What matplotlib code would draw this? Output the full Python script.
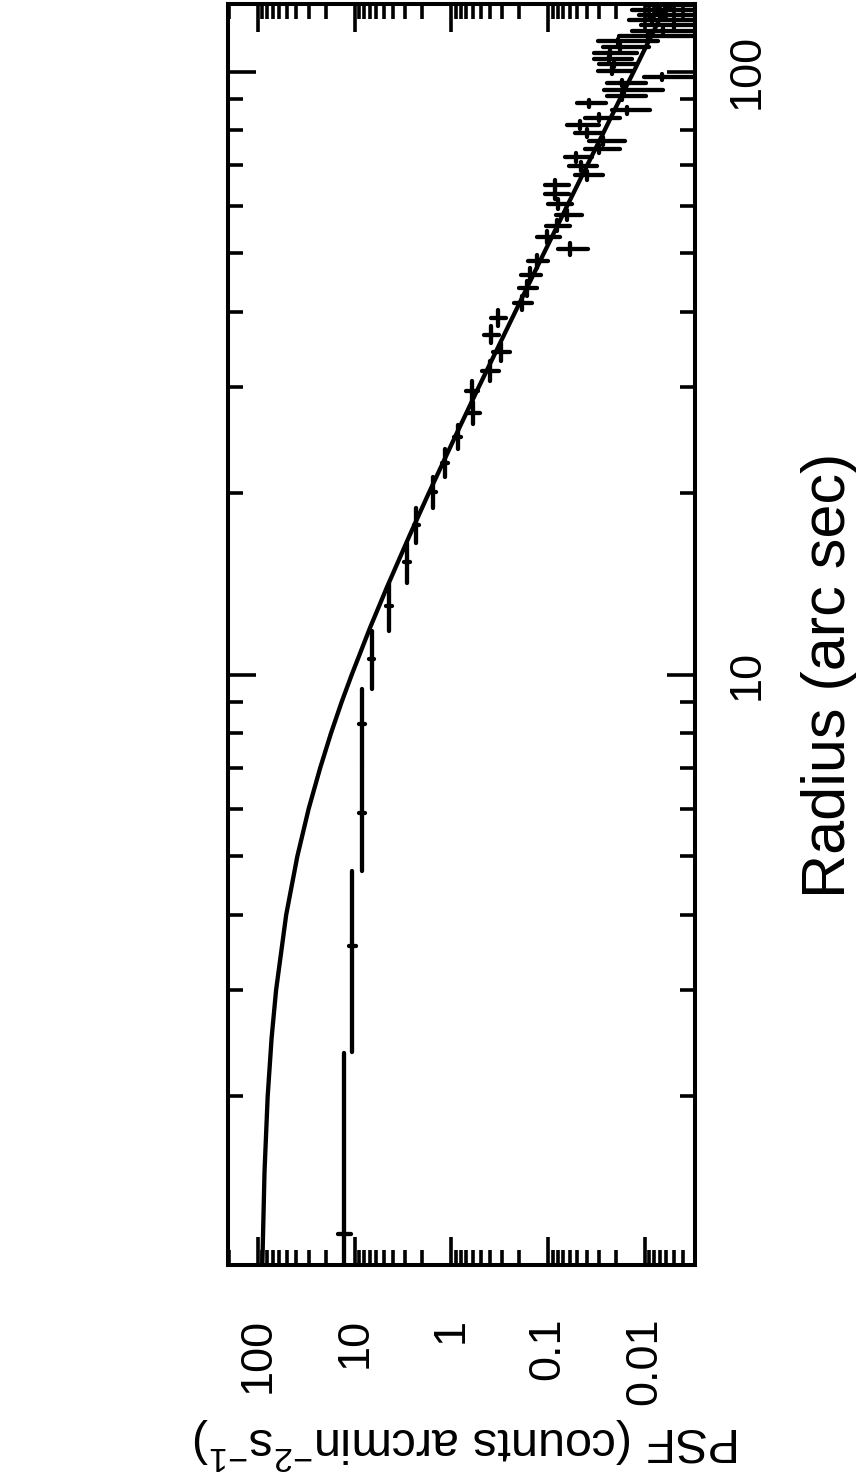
import numpy as np
import matplotlib
matplotlib.use('Agg')
import matplotlib.pyplot as plt
from matplotlib.ticker import LogLocator, FuncFormatter, NullFormatter

plt.rcParams['font.family'] = ['Liberation Sans', 'DejaVu Sans']
plt.rcParams['mathtext.fontset'] = 'custom'
plt.rcParams['mathtext.rm'] = 'Liberation Sans'
plt.rcParams['mathtext.it'] = 'Liberation Sans:italic'

# radial bins (arc sec): bin centres and half width
radius = [1.18, 3.55, 5.91, 8.28, 10.64, 13.01, 15.37, 17.74, 20.10, 22.47,
          24.83, 27.20, 29.56, 31.93, 34.29, 36.66, 39.03, 41.39, 43.75, 46.12,
          48.48, 50.85, 53.21, 55.58, 57.94, 60.31, 62.67, 65.04, 67.40, 69.77,
          72.13, 74.50, 76.86, 79.23, 81.59, 83.96, 86.32, 88.69, 91.05, 93.42,
          95.78, 98.15, 100.51, 102.88, 105.24, 107.61, 109.97, 112.34, 114.70, 117.07,
          119.43, 121.80, 124.16, 126.53, 128.89]
r_half = 1.18

# measured PSF (counts arcmin^-2 s^-1) and its error
psf = [12.9, 10.6, 8.5, 8.5, 6.7, 4.4, 2.9, 2.3, 1.54, 1.16,
       0.86, 0.60, 0.62, 0.40, 0.31, 0.39, 0.33, 0.187, 0.166, 0.154,
       0.131, 0.059, 0.103, 0.082, 0.064, 0.079, 0.085, 0.085, 0.040, 0.046,
       0.051, 0.030, 0.027, 0.040, 0.047, 0.030, 0.0154, 0.038, 0.0173, 0.0165,
       0.0173, 0.0067, 0.022, 0.021, 0.0235, 0.023, 0.018, 0.0188, 0.0092, 0.0065,
       0.005, 0.0085, 0.0065, 0.0075, 0.0055]
psf_err = [2.0, 0.8, 0.6, 0.6, 0.45, 0.3, 0.2, 0.16, 0.11, 0.08,
           0.07, 0.09, 0.09, 0.08, 0.06, 0.07, 0.06, 0.04, 0.035, 0.035,
           0.03, 0.02, 0.027, 0.023, 0.019, 0.022, 0.024, 0.024, 0.013, 0.015,
           0.016, 0.012, 0.011, 0.013, 0.017, 0.012, 0.0065, 0.0127, 0.0075, 0.01,
           0.0075, 0.0035, 0.0085, 0.009, 0.01, 0.011, 0.009, 0.0115, 0.0095, 0.007,
           0.006, 0.006, 0.005, 0.006, 0.004]

# model curve
model_r = [1.05, 1.5, 2, 2.5, 3, 4, 5, 6, 7, 8, 9, 10, 12, 14, 17, 20, 25, 30,
           40, 50, 60, 70, 80, 90, 100, 115, 130]
model_psf = [90.2, 85.6, 79.4, 72.3, 65.0, 51.1, 39.2, 29.9, 22.8, 17.6, 13.7, 10.75,
             6.90, 4.62, 2.72, 1.72, 0.898, 0.523, 0.219, 0.111, 0.0635, 0.0395,
             0.0261, 0.0182, 0.0131, 0.00853, 0.00584]

fig = plt.figure(figsize=(8.56, 14.79), dpi=100)
ax = fig.add_axes([0.2664, 0.1447, 0.5456, 0.8526])

# plot is drawn rotated: PSF runs across (decreasing), radius runs up
ax.plot(model_psf, model_r, color='k', lw=3.1, solid_capstyle='round')
eb = ax.errorbar(psf, radius, xerr=psf_err, yerr=r_half, fmt='none',
                 ecolor='k', elinewidth=3.1, capsize=0)
for lc in eb[2]:
    lc.set_capstyle('round')

ax.set_xscale('log')
ax.set_yscale('log')
ax.set_xlim(204, 0.00303)
ax.set_ylim(1.05, 129.6)

for a in (ax.xaxis, ax.yaxis):
    a.set_major_locator(LogLocator(base=10, numticks=30))
    a.set_minor_locator(LogLocator(base=10, subs=np.arange(2, 10), numticks=30))
    a.set_major_formatter(FuncFormatter(lambda v, p: f'{v:g}'))
    a.set_minor_formatter(NullFormatter())

ax.tick_params(which='both', direction='in', width=2.6, color='k',
               top=True, bottom=True, left=True, right=True,
               labelleft=False, labelright=True, labelsize=32.5)
ax.tick_params(which='major', length=20)
ax.tick_params(which='minor', length=11)
ax.tick_params(axis='x', pad=38, labelrotation=90)
ax.tick_params(axis='y', pad=23, labelrotation=90)
for t in ax.get_yticklabels():
    t.set_va('center')

for s in ax.spines.values():
    s.set_linewidth(2.9)

fig.text(0.9696, 0.5436, 'Radius (arc sec)', rotation=90, ha='center', va='center', fontsize=44)
fig.text(0.5456, 0.0235, r'PSF (counts arcmin$^{-2}$s$^{-1}$)', rotation=180,
         ha='center', va='center', fontsize=35)

fig.savefig('out.png', dpi=100)
